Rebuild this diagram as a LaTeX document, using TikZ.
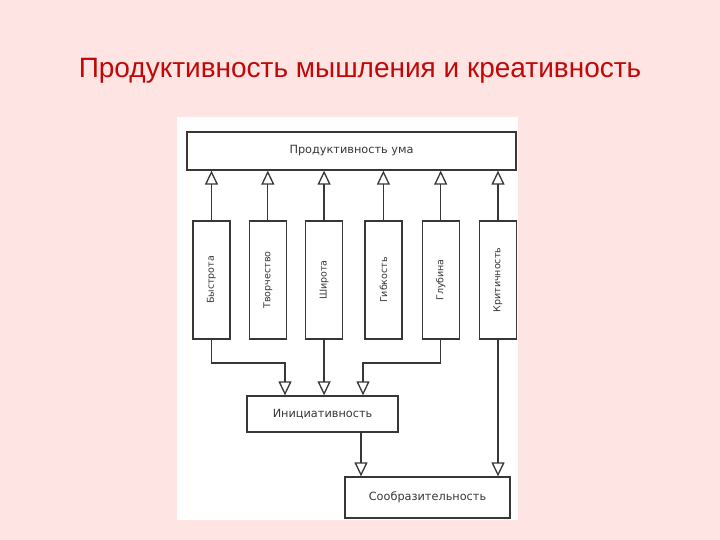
\documentclass[tikz,border=0pt]{standalone}
\usepackage{fontspec}
\setmainfont{Liberation Sans}
\newfontfamily\boxfont{DejaVu Sans}
\usetikzlibrary{arrows.meta,positioning}

\definecolor{slidepink}{RGB}{255,228,228}
\definecolor{titlered}{RGB}{192,8,8}
\definecolor{inkgray}{RGB}{55,55,55}

\tikzset{
  entity/.style={draw=inkgray, line width=1.3pt, fill=white, inner sep=0pt,
    font=\boxfont\fontsize{11.3}{13}\selectfont, text=inkgray},
  quality/.style={entity, minimum width=37pt, minimum height=118pt,
    font=\boxfont\fontsize{9.5}{11}\selectfont},
  link/.style={draw=inkgray, line width=1.3pt,
    -{Triangle[open, width=13pt, length=14pt, line width=1.3pt]}}
}

\begin{document}
\begin{tikzpicture}[x=1pt,y=-1pt]
  \fill[slidepink] (0,0) rectangle (720,540);
  \useasboundingbox (0,0) rectangle (720,540);

  \node[text=titlered, font=\fontsize{28}{32}\selectfont] (title) at (360,71)
    {Продуктивность мышления и креативность};

  \fill[white] (177,117) rectangle (518,520);

  \node[entity, minimum width=329pt, minimum height=38pt] (node0) at (351.5,151) {Продуктивность ума};

  \node[quality] (node1) at (211.5,280) {\rotatebox{90}{Быстрота}};
  \node[quality] (node2) [right = 18pt of node1] {\rotatebox{90}{Творчество}};
  \node[quality] (node3) [right = 18pt of node2] {\rotatebox{90}{Широта}};
  \node[quality] (node4) [right = 21pt of node3] {\rotatebox{90}{Гибкость}};
  \node[quality] (node5) [right = 19pt of node4] {\rotatebox{90}{Глубина}};
  \node[quality] (node6) [right = 19pt of node5] {\rotatebox{90}{Критичность}};

  \node[entity, minimum width=151pt, minimum height=36pt] (node7) at (322.5,414) {Инициативность};
  \node[entity, minimum width=165pt, minimum height=41pt] (node8) at (427.5,497.5) {Сообразительность};

  % every quality feeds the top box
  \foreach \n in {1,...,6}
    \draw[link] (node\n.north) -- (node\n.north |- node0.south);

  % three of them meet in the initiative box
  \coordinate (bend) at (0,363);
  \coordinate (in1) at ([xshift=-37.5pt]node7.north);
  \coordinate (in3) at ([xshift=40.5pt]node7.north);
  \coordinate (out) at ([xshift=38.5pt]node7.south);
  \draw[link] (node1.south) |- (in1 |- bend) -- (in1);
  \draw[link] (node3.south) -- (node3.south |- node7.north);
  \draw[link] (node5.south) |- (in3 |- bend) -- (in3);

  \draw[link] (out) -- (out |- node8.north);
  \draw[link] (node6.south) -- (node6.south |- node8.north);
\end{tikzpicture}
\end{document}
